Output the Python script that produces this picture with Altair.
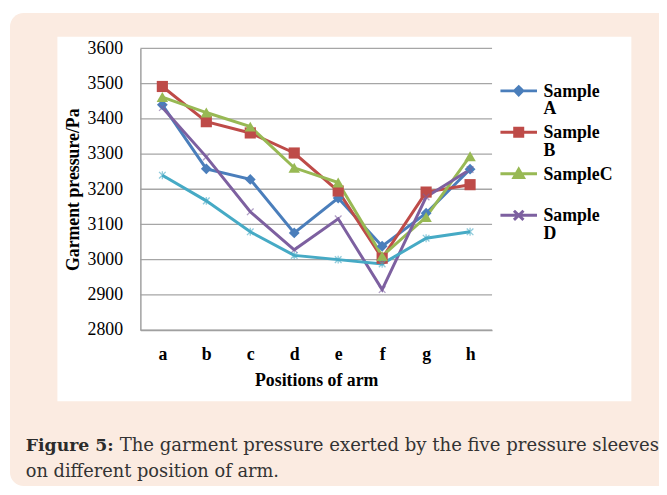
import altair as alt
import pandas as pd

positions = ["a", "b", "c", "d", "e", "f", "g", "h"]
samples = ["Sample A", "Sample B", "SampleC", "Sample D", "Sample E"]
sample_a = [3440, 3258, 3228, 3076, 3175, 3038, 3132, 3257]
sample_b = [3492, 3392, 3360, 3303, 3195, 3004, 3192, 3213]
sample_c = [3462, 3418, 3378, 3261, 3219, 3010, 3121, 3294]
sample_d = [3432, 3292, 3136, 3028, 3116, 2915, 3178, 3256]
sample_e = [3240, 3167, 3079, 3012, 3000, 2988, 3061, 3079]
y_ticks = [2800, 2900, 3000, 3100, 3200, 3300, 3400, 3500, 3600]
legend_values = ["Sample A", "Sample B", "SampleC", "Sample D"]
x_title = "Positions of arm"
y_title = "Garment pressure/Pa"
caption_bold = "Figure 5:"
caption_line1 = "The garment pressure exerted by the five pressure sleeves"
caption_line2 = "on different position of arm."

line_colors = ["#4A7EBB", "#BE4B48", "#98B954", "#7D60A0", "#46AAC5"]
marker_shapes = [
    "diamond",
    "square",
    "triangle-up",
    "M-1,-1L1,1M-1,1L1,-1",
    "M-1,-1L1,1M-1,1L1,-1M0,-1.2L0,1.2",
]
legend_shapes = [
    "M-1,-0.33H1M0,-0.55L0.22,-0.33L0,-0.11L-0.22,-0.33Z",
    "M-1,-0.33H1M-0.22,-0.55H0.22V-0.11H-0.22Z",
    "M-1,-0.33H1M0,-0.58L0.26,-0.13H-0.26Z",
    "M-1,-0.33H1M-0.26,-0.58L0.26,-0.08M-0.26,-0.08L0.26,-0.58",
    "M-1,-0.33H1",
]

series = [sample_a, sample_b, sample_c, sample_d, sample_e]
rows = []
for name, vals in zip(samples, series):
    for p, v in zip(positions, vals):
        rows.append({"sample": name, "position": p, "value": v})
df = pd.DataFrame(rows)
grid_df = pd.DataFrame({"value": y_ticks})
one = pd.DataFrame({"k": [1]})

SERIF = "Liberation Serif"
PLOT_W, PLOT_H = 356, 285

x_enc = alt.X(
    "position:N",
    scale=alt.Scale(domain=positions, type="point", padding=0.5),
    axis=alt.Axis(
        title=x_title, labelAngle=0, ticks=False, grid=False,
        labelFont=SERIF, labelFontSize=18, labelFontWeight="bold", labelColor="black",
        labelPadding=16, titleFont=SERIF, titleFontSize=18, titleFontWeight="bold",
        titleColor="black", titlePadding=8, domainColor="#A0A0A0", domainWidth=1.5,
        zindex=1,
    ),
)
y_scale = alt.Scale(domain=[2800, 3600], nice=False, zero=False)
y_axis = alt.Axis(
    title=y_title, values=y_ticks, ticks=False, grid=False, format="d",
    labelFont=SERIF, labelFontSize=18, labelColor="black", labelPadding=18,
    titleFont=SERIF, titleFontSize=18, titleFontWeight="bold", titleColor="black",
    titlePadding=5, domainColor="#A0A0A0", domainWidth=1.5, zindex=1,
)
y_enc = alt.Y("value:Q", scale=y_scale, axis=y_axis)
color_enc = alt.Color("sample:N", scale=alt.Scale(domain=samples, range=line_colors), legend=None)

peach = alt.Chart(one).mark_rect(color="#FBEBE1", cornerRadius=14).encode(
    x=alt.value(-132), x2=alt.value(560), y=alt.value(-36), y2=alt.value(443)
)
white = alt.Chart(one).mark_rect(color="white").encode(
    x=alt.value(-84), x2=alt.value(497), y=alt.value(-12), y2=alt.value(357)
)
grid = alt.Chart(grid_df).mark_rule(color="#A6A6A6", strokeWidth=1.3).encode(y=y_enc)
lines = alt.Chart(df).mark_line(strokeWidth=3).encode(x=x_enc, y=y_enc, color=color_enc)

pts_filled = alt.Chart(df).transform_filter(
    alt.FieldOneOfPredicate(field="sample", oneOf=samples[:3])
).mark_point(filled=True, opacity=1).encode(
    x=x_enc, y=y_enc, color=color_enc,
    shape=alt.Shape("sample:N", scale=alt.Scale(domain=samples, range=marker_shapes), legend=None),
    size=alt.Size("sample:N", scale=alt.Scale(domain=samples, range=[120, 150, 160, 110, 110]), legend=None),
)
pts_stroked = alt.Chart(df).transform_filter(
    alt.FieldOneOfPredicate(field="sample", oneOf=samples[3:])
).mark_point(filled=False, opacity=0.6, strokeWidth=1.3, size=45).encode(
    x=x_enc, y=y_enc, color=color_enc,
    shape=alt.Shape("sample:N", scale=alt.Scale(domain=samples, range=marker_shapes), legend=None),
)

leg = alt.Legend(
    orient="none", legendX=363, legendY=29, title=None, values=legend_values,
    labelFont=SERIF, labelFontSize=18, labelFontWeight="bold", labelColor="black",
    labelExpr="length(split(datum.label, ' ')) > 1 ? split(datum.label, ' ') : [datum.label, ' ']",
    labelBaseline="alphabetic", labelLimit=300,
    symbolSize=1369, symbolStrokeWidth=3, labelOffset=5, padding=0, rowPadding=0,
)
legend_layer = alt.Chart(df).transform_filter("false").mark_point(
    filled=True, opacity=1, strokeWidth=3
).encode(
    shape=alt.Shape("sample:N", scale=alt.Scale(domain=samples, range=legend_shapes), legend=leg),
    fill=alt.Fill("sample:N", scale=alt.Scale(domain=samples, range=line_colors), legend=leg),
    stroke=alt.Stroke("sample:N", scale=alt.Scale(domain=samples, range=line_colors), legend=leg),
)

cap_font = "DejaVu Serif"
cap1b = alt.Chart(one).mark_text(
    text=caption_bold, font=cap_font, fontSize=17.5, fontWeight="bold", color="#2b2b2b",
    align="left", baseline="alphabetic"
).encode(x=alt.value(-116), y=alt.value(407))
cap1 = alt.Chart(one).mark_text(
    text=caption_line1, font=cap_font, fontSize=18.3, color="#333333",
    align="left", baseline="alphabetic"
).encode(x=alt.value(-21), y=alt.value(407))
cap2 = alt.Chart(one).mark_text(
    text=caption_line2, font=cap_font, fontSize=18.0, color="#333333",
    align="left", baseline="alphabetic"
).encode(x=alt.value(-116), y=alt.value(434))

chart = alt.layer(
    peach, white, grid, lines, pts_filled, pts_stroked, legend_layer, cap1b, cap1, cap2
).resolve_scale(
    shape="independent", fill="independent", stroke="independent"
).properties(
    width=PLOT_W, height=PLOT_H,
    autosize=alt.AutoSizeParams(type="none"),
    padding={"left": 134, "top": 38, "right": 169, "bottom": 162},
    background="white",
).configure(
    style={"guide-label": {"lineHeight": 17.5}}
).configure_view(strokeWidth=0)

chart.save("out.html", embed_options={"renderer": "svg", "actions": False})
